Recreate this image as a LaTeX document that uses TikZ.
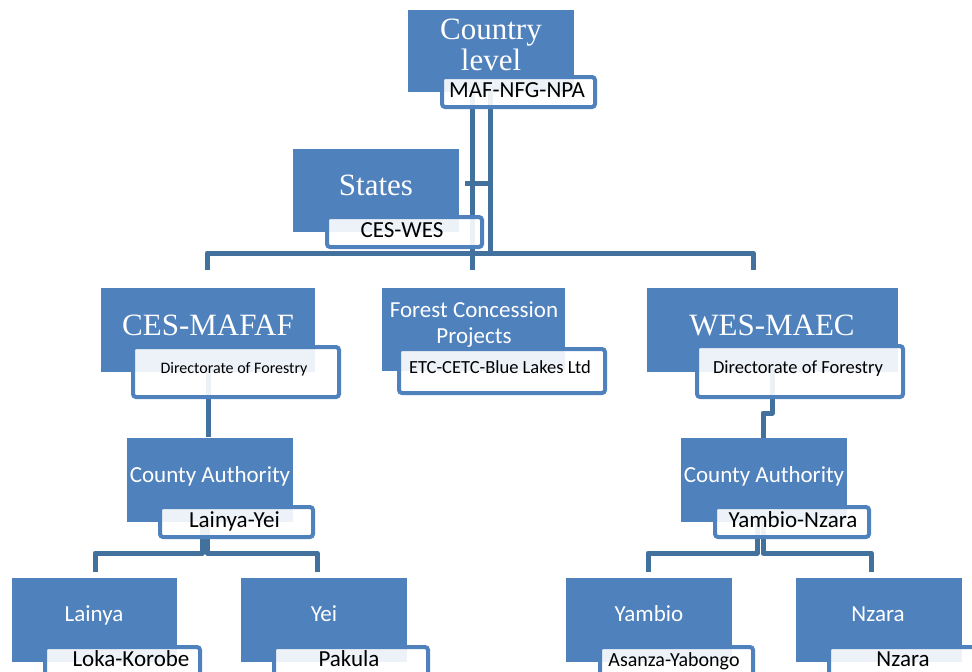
\documentclass[tikz,border=0pt]{standalone}
\usepackage{fontspec}
\setmainfont{Liberation Serif}
\newfontfamily\lblfont{Carlito}
\definecolor{boxblue}{HTML}{4F81BD}
\definecolor{linkblue}{HTML}{41719C}

\tikzset{
  unitbox/.style={fill=boxblue, draw=none, inner sep=0pt, anchor=north west},
  tagbox/.style={fill=white, fill opacity=0.9, draw=boxblue, line width=4pt,
                 rounded corners=3pt, inner sep=0pt, anchor=north west},
  tagslot/.style={draw=none, fill=none, inner sep=0pt, anchor=north west},
  conn/.style={draw=linkblue, line width=5pt, line join=round},
  serifhead/.style={text=white, inner sep=0pt, anchor=base,
                    font=\fontsize{31}{31}\selectfont},
  sanshead/.style={text=white, inner sep=0pt, anchor=base,
                   font=\lblfont\fontsize{23}{26}\selectfont},
  tagtext/.style={text=black, inner sep=0pt, anchor=base,
                  font=\lblfont\fontsize{23}{26}\selectfont},
}

\begin{document}
\begin{tikzpicture}[x=1pt, y=-1pt]
\clip (0,0) rectangle (972,672);

% ---- coloured unit boxes ----
\node[unitbox, minimum width=166, minimum height=82] (country) at (408,10) {};
\node[unitbox, minimum width=166, minimum height=83] (states) at (293,149) {};
\node[unitbox, minimum width=214, minimum height=84] (cesmafaf) at (101,288) {};
\node[unitbox, minimum width=183, minimum height=83] (forest) at (382,288) {};
\node[unitbox, minimum width=251, minimum height=84] (wesmaec) at (647,288) {};
\node[unitbox, minimum width=166, minimum height=84] (countyL) at (127,438) {};
\node[unitbox, minimum width=166, minimum height=84] (countyR) at (681,438) {};
\node[unitbox, minimum width=165, minimum height=84] (lainya) at (12,578) {};
\node[unitbox, minimum width=166, minimum height=84] (yei) at (241,578) {};
\node[unitbox, minimum width=166, minimum height=84] (yambio) at (566,578) {};
\node[unitbox, minimum width=166, minimum height=84] (nzara) at (796,578) {};

% ---- titles inside the unit boxes ----
\node[serifhead] (tcountry) at (491,39) {Country};
\node[serifhead] (tlevel) at (491,70) {level};
\node[serifhead] (tstates) at (376,195) {States};
\node[serifhead] (tcesmafaf) at (208,335) {CES-MAFAF};
\node[serifhead] (twesmaec) at (772,335) {WES-MAEC};
\node[sanshead] (tforest1) at (474,317) {Forest Concession};
\node[sanshead] (tforest2) at (474,343) {Projects};
\node[sanshead] (tcountyL) at (210,482) {County Authority};
\node[sanshead] (tcountyR) at (764,482) {County Authority};
\node[sanshead] (tlainya) at (94,621) {Lainya};
\node[sanshead] (tyei) at (324,621) {Yei};
\node[sanshead] (tyambio) at (649,621) {Yambio};
\node[sanshead] (tnzara) at (878,621) {Nzara};

% ---- tag slots, used as connector ends ----
\node[tagslot, minimum width=153, minimum height=30] (maf) at (440,75) {};
\node[tagslot, minimum width=206, minimum height=50] (dirL) at (131,345) {};
\node[tagslot, minimum width=206, minimum height=51] (dirR) at (695,344) {};
\node[tagslot, minimum width=153, minimum height=30] (lainyayei) at (158,505) {};
\node[tagslot, minimum width=154, minimum height=30] (yambionzara) at (713,505) {};

% ---- junction points of the connectors ----
\coordinate (busL) at (207,253);
\coordinate (busM) at (472,253);
\coordinate (busR) at (753,253);
\coordinate (busM2) at (490,253);
\coordinate (stj) at (490,183);
\coordinate (stend) at (465,183);
\coordinate (dirLj) at (208,437);
\coordinate (dirRa) at (772,413);
\coordinate (dirRb) at (763,413);
\coordinate (cLa) at (202,553);
\coordinate (cLb) at (207,553);
\coordinate (cRa) at (757,553);
\coordinate (cRb) at (763,553);
\coordinate (dLainya) at (95,553);
\coordinate (dYei) at (317,553);
\coordinate (dYambio) at (648,553);
\coordinate (dNzara) at (871,553);

% ---- connectors ----
\draw[conn] (maf.center -| busM) -- (busM);
\draw[conn] (maf.center -| busM2) -- (busM2);
\draw[conn] (stj) -- (stend);
\draw[conn] (busL) ++(0,17) -- (busL) -- (busR) -- ++(0,17);
\draw[conn] (busM) -- ++(0,17);
\draw[conn] (dirL.center -| dirLj) -- (dirLj);
\draw[conn] (dirR.center -| dirRa) -- (dirRa) -- (dirRb) -- (countyR.north -| dirRb);
\draw[conn] (lainyayei.center -| cLa) -- (cLa) -- (dLainya) -- ++(0,19);
\draw[conn] (lainyayei.center -| cLb) -- (cLb) -- (dYei) -- ++(0,19);
\draw[conn] (yambionzara.center -| cRa) -- (cRa) -- (dYambio) -- ++(0,19);
\draw[conn] (yambionzara.center -| cRb) -- (cRb) -- (dNzara) -- ++(0,19);

% ---- tag boxes ----
\node[tagbox, minimum width=153, minimum height=30] (mafb) at (440,75) {};
\node[tagbox, minimum width=155, minimum height=30] (ceswesb) at (325,215) {};
\node[tagbox, minimum width=206, minimum height=50] (dirLb) at (131,345) {};
\node[tagbox, minimum width=206, minimum height=44] (etcb) at (397,347) {};
\node[tagbox, minimum width=206, minimum height=51] (dirRb2) at (695,344) {};
\node[tagbox, minimum width=153, minimum height=30] (lainyayeib) at (158,505) {};
\node[tagbox, minimum width=154, minimum height=30] (yambionzarab) at (713,505) {};
\node[tagbox, minimum width=155, minimum height=50] (lokab) at (43,645) {};
\node[tagbox, minimum width=154, minimum height=50] (pakulab) at (272,645) {};
\node[tagbox, minimum width=153, minimum height=50] (asanzab) at (598,645) {};
\node[tagbox, minimum width=155, minimum height=50] (nzarab) at (827,645) {};

% ---- tag texts ----
\node[tagtext] (tmaf) at (517,97) {MAF-NFG-NPA};
\node[tagtext] (tceswes) at (402,237) {CES-WES};
\node[tagtext, font=\lblfont\fontsize{16}{18}\selectfont] (tdirL) at (234,373) {Directorate of Forestry};
\node[tagtext, font=\lblfont\fontsize{18.5}{20}\selectfont] (tetc) at (500,373) {ETC-CETC-Blue Lakes Ltd};
\node[tagtext, font=\lblfont\fontsize{18.5}{20}\selectfont] (tdirR) at (798,373) {Directorate of Forestry};
\node[tagtext] (tlainyayei) at (234.5,527) {Lainya-Yei};
\node[tagtext] (tyambionzara) at (793,527) {Yambio-Nzara};
\node[tagtext] (tloka) at (131,666) {Loka-Korobe};
\node[tagtext] (tpakula) at (349,666) {Pakula};
\node[tagtext, font=\lblfont\fontsize{20}{22}\selectfont] (tasanza) at (674,666) {Asanza-Yabongo};
\node[tagtext] (tnzaratag) at (903,666) {Nzara};
\end{tikzpicture}
\end{document}
